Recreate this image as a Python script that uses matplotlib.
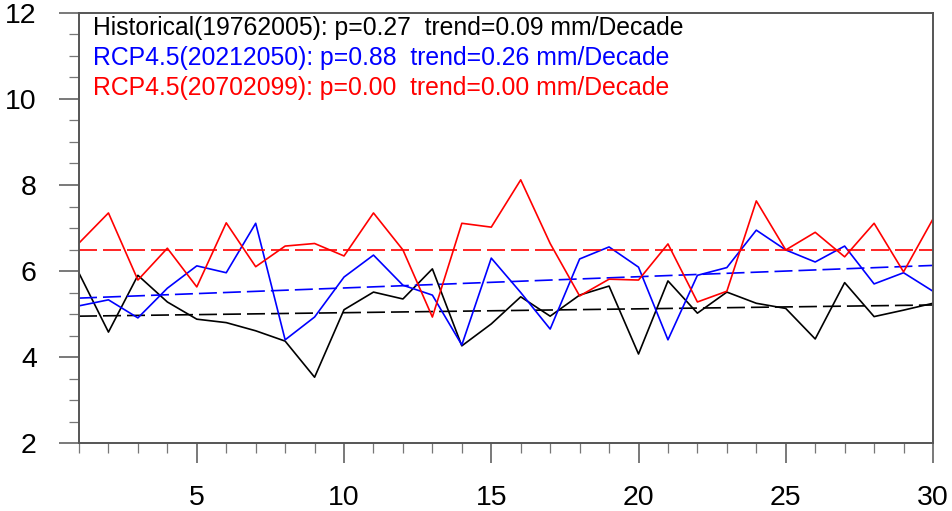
import numpy as np
import matplotlib
matplotlib.use("Agg")
import matplotlib.pyplot as plt
from matplotlib.ticker import MultipleLocator

plt.rcParams['font.family'] = ['Liberation Sans', 'DejaVu Sans']

years = np.arange(1, 31)

hist = [5.95, 4.58, 5.90, 5.28, 4.88, 4.80, 4.61, 4.37, 3.53, 5.10,
        5.51, 5.35, 6.05, 4.26, 4.77, 5.40, 4.95, 5.44, 5.65, 4.07,
        5.77, 5.02, 5.51, 5.25, 5.13, 4.42, 5.73, 4.94, 5.09, 5.25]
rcp_mid = [5.19, 5.33, 4.91, 5.60, 6.12, 5.96, 7.11, 4.40, 4.93, 5.86,
           6.37, 5.67, 5.44, 4.28, 6.30, 5.50, 4.65, 6.28, 6.56, 6.09,
           4.40, 5.90, 6.08, 6.95, 6.49, 6.21, 6.58, 5.70, 5.96, 5.53]
rcp_end = [6.65, 7.35, 5.79, 6.53, 5.63, 7.12, 6.10, 6.58, 6.64, 6.35,
           7.35, 6.49, 4.93, 7.11, 7.02, 8.12, 6.64, 5.42, 5.81, 5.79,
           6.63, 5.28, 5.53, 7.63, 6.49, 6.90, 6.33, 7.11, 5.98, 7.21]

# trend lines (start, end)
hist_trend = [4.95, 5.21]
mid_trend = [5.37, 6.13]
end_trend = [6.49, 6.49]

labels = ["Historical(19762005): p=0.27  trend=0.09 mm/Decade",
          "RCP4.5(20212050): p=0.88  trend=0.26 mm/Decade",
          "RCP4.5(20702099): p=0.00  trend=0.00 mm/Decade"]
colors = ["black", "blue", "red"]

fig = plt.figure(figsize=(9.53, 5.11), dpi=100)
ax = fig.add_axes([0.0829, 0.133, 0.8961, 0.8416])

dash = (10.8, 3.6)
for series, trend, c in zip([hist, rcp_mid, rcp_end], [hist_trend, mid_trend, end_trend], colors):
    ax.plot(years, series, color=c, lw=1.2)
    ax.plot([years[0], years[-1]], trend, color=c, lw=1.2, dashes=dash)

ax.set_xlim(1, 30)
ax.set_ylim(2, 12)
ax.xaxis.set_major_locator(MultipleLocator(5))
ax.xaxis.set_minor_locator(MultipleLocator(1))
ax.yaxis.set_major_locator(MultipleLocator(2))
ax.yaxis.set_minor_locator(MultipleLocator(0.5))

for s in ax.spines.values():
    s.set_color("#555555")
    s.set_linewidth(1.4)
ax.tick_params(which="major", length=14.4, width=1.1, color="#555555",
               labelsize=20.5, pad=16)
ax.tick_params(which="minor", length=7.2, width=0.9, color="#777777")
ax.tick_params(top=False, right=False, which="both")

for i, (t, c) in enumerate(zip(labels, colors)):
    ax.text(0.016, 0.994 - i * 0.0698, t, color=c, fontsize=17.8,
            transform=ax.transAxes, va="top", ha="left")

fig.savefig("out.png", dpi=100)
